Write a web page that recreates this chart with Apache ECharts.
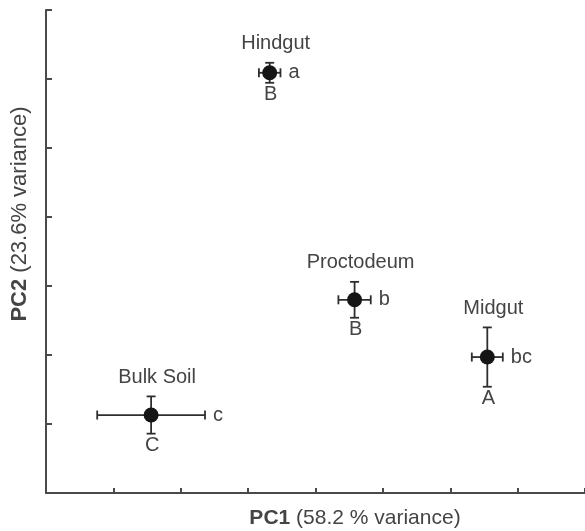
<!DOCTYPE html>
<html><head><meta charset="utf-8">
<script src="https://cdn.jsdelivr.net/npm/echarts/dist/echarts.min.js"></script>
<style>html,body{margin:0;padding:0;background:#fff;}#c{width:585px;height:531px;}</style>
</head><body><div id="c"></div>
<script>
const groups = ['Hindgut', 'Proctodeum', 'Midgut', 'Bulk Soil'];
const pc1 = [3.32, 4.58, 6.55, 1.56];
const pc2 = [6.09, 2.80, 1.97, 1.13];
const pc1Err = [0.16, 0.24, 0.23, 0.80];
const pc2Err = [0.145, 0.26, 0.43, 0.27];
const pc1Letters = ['a', 'b', 'bc', 'c'];
const pc2Letters = ['B', 'B', 'A', 'C'];
const xTitleBold = 'PC1', xTitleRest = ' (58.2 % variance)';
const yTitleBold = 'PC2', yTitleRest = ' (23.6% variance)';

const FONT = '"Liberation Sans", Arial, Helvetica, sans-serif';
const INK = '#2e2e2e';
const TXT = '#444';

const data = groups.map((g, i) => [pc1[i], pc2[i], pc1Err[i], pc2Err[i], i]);

function renderItem(params, api) {
  const x = api.value(0), y = api.value(1), ex = api.value(2), ey = api.value(3);
  const i = api.value(4);
  const c = api.coord([x, y]);
  const l = api.coord([x - ex, y]), r = api.coord([x + ex, y]);
  const t = api.coord([x, y + ey]), b = api.coord([x, y - ey]);
  const cap = 4.5;
  const ls = { stroke: INK, lineWidth: 1.8 };
  const line = (x1, y1, x2, y2) => ({ type: 'line', shape: { x1, y1, x2, y2 }, style: ls });
  const text = (s, px, py, align, va) => ({
    type: 'text', x: px, y: py,
    style: { text: s, fill: TXT, font: '20px ' + FONT, align: align, verticalAlign: va }
  });
  return {
    type: 'group',
    children: [
      line(l[0], c[1], r[0], c[1]),
      line(l[0], c[1] - cap, l[0], c[1] + cap),
      line(r[0], c[1] - cap, r[0], c[1] + cap),
      line(c[0], t[1], c[0], b[1]),
      line(c[0] - cap, t[1], c[0] + cap, t[1]),
      line(c[0] - cap, b[1], c[0] + cap, b[1]),
      { type: 'circle', shape: { cx: c[0], cy: c[1], r: 7.5 }, style: { fill: '#151515' } },
      text(groups[i], c[0] + 6, t[1] - 19, 'center', 'middle'),
      text(pc1Letters[i], r[0] + 8, c[1], 'left', 'middle'),
      text(pc2Letters[i], c[0] + 1, b[1] + 12, 'center', 'middle')
    ]
  };
}

const axisStyle = { color: '#4a4a4a', width: 2 };
const chart = echarts.init(document.getElementById('c'), null, { renderer: 'canvas' });
chart.setOption({
  animation: false,
  backgroundColor: '#fff',
  grid: { left: 46, top: 10, width: 540, height: 483 },
  xAxis: {
    type: 'value', min: 0, max: 8, interval: 1,
    axisLine: { show: true, lineStyle: axisStyle },
    axisTick: { show: true, inside: true, length: 5, lineStyle: axisStyle },
    axisLabel: { show: false }, splitLine: { show: false }
  },
  yAxis: {
    type: 'value', min: 0, max: 7, interval: 1,
    axisLine: { show: true, lineStyle: axisStyle },
    axisTick: { show: true, inside: true, length: 6, lineStyle: axisStyle },
    axisLabel: { show: false }, splitLine: { show: false }
  },
  graphic: [
    {
      type: 'text', x: 355, y: 518,
      style: {
        text: '{b|' + xTitleBold + '}' + xTitleRest, fill: TXT, font: '21px ' + FONT,
        align: 'center', verticalAlign: 'middle',
        rich: { b: { fontWeight: 'bold', fontSize: 21, fontFamily: FONT, fill: TXT } }
      }
    },
    {
      type: 'text', x: 20, y: 214, rotation: Math.PI / 2,
      style: {
        text: '{b|' + yTitleBold + '}' + yTitleRest, fill: TXT, font: '22px ' + FONT,
        align: 'center', verticalAlign: 'middle',
        rich: { b: { fontWeight: 'bold', fontSize: 22, fontFamily: FONT, fill: TXT } }
      }
    }
  ],
  series: [{
    type: 'custom', renderItem: renderItem, data: data,
    encode: { x: 0, y: 1 }, clip: false
  }]
});
</script></body></html>
